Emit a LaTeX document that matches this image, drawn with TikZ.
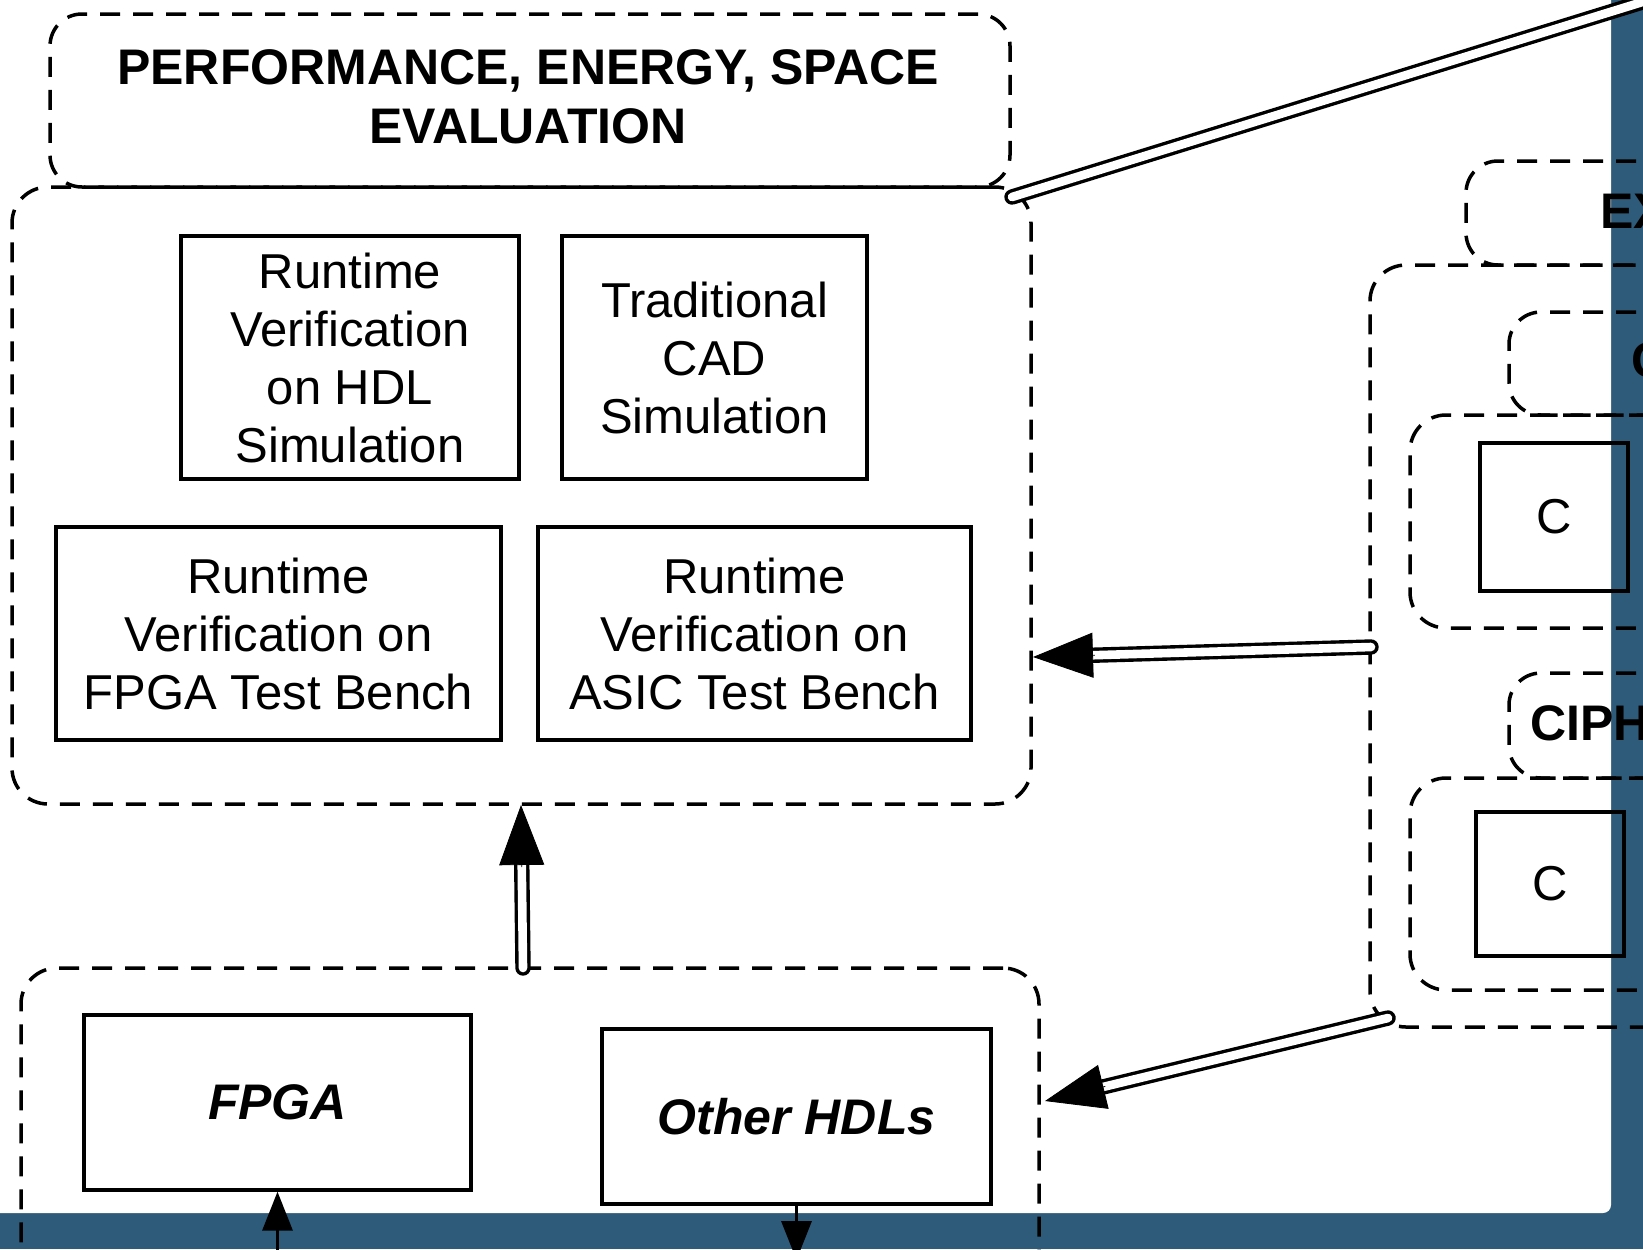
\documentclass[tikz,border=0pt]{standalone}
\usepackage{fontspec}
\setmainfont{Liberation Sans}
\usetikzlibrary{arrows.meta,calc}
\definecolor{bandblue}{RGB}{46,91,121}

\begin{document}
\begin{tikzpicture}[x=0.5pt,y=-0.5pt,
  box/.style={draw, line width=1.65pt, inner sep=0pt, align=center,
    font=\fontsize{24.5}{29}\selectfont},
  dashbox/.style={draw, line width=1.75pt, dash pattern=on 10pt off 6.5pt,
    rounded corners=18pt, inner sep=0pt},
  titlebox/.style={dashbox, rounded corners=16pt, align=center,
    font=\fontsize{25}{29.3}\selectfont\bfseries},
  titletext/.style={font=\fontsize{25}{29.3}\selectfont\bfseries, inner sep=0pt},
  hwtext/.style={font=\fontsize{25}{29.3}\selectfont\bfseries\itshape},
  link/.style={draw, line width=1.7pt, double=white, double distance=4.3pt, line cap=round},
  bighead/.style={line width=0.4pt, -{Triangle[length=30pt,width=22.5pt]}},
  smallarrow/.style={line width=1.65pt, -{Triangle[length=19.5pt,width=15pt]}},
]
\useasboundingbox (0,0) rectangle (1643,1249);
\clip (0,0) rectangle (1643,1249);

% frame: dark band on the right and bottom, white card with rounded corner
\fill[bandblue] (0,0) rectangle (1643,1249);
\fill[white, rounded corners=4pt] (-40,-40) rectangle (1611,1213);

% evaluation group
\node[titlebox, minimum width=480pt, minimum height=86.5pt] (evaltitle) at (530,100.5) {};
\node[titletext, align=center] (evaltitletext) at (528,97)
  {PERFORMANCE, ENERGY, SPACE\\EVALUATION};
\node[dashbox, minimum width=509.5pt, minimum height=308.5pt] (evalbox) at (521.5,495.5) {};

\node[box, minimum width=169pt, minimum height=121.5pt] (hdl) at (350,357.5)
  {Runtime\\Verification\\on HDL\\Simulation};
\node[box, minimum width=152.5pt, minimum height=121.5pt] (cad) at (714.5,357.5)
  {Traditional\\CAD\\Simulation};
\node[box, minimum width=222.5pt, minimum height=106.5pt] (fpgatb) at (278.5,633.5)
  {Runtime\\Verification on\\FPGA Test Bench};
\node[box, minimum width=216.5pt, minimum height=106.5pt] (asictb) at (754.5,633.5)
  {Runtime\\Verification on\\ASIC Test Bench};

% hardware group
\node[dashbox, minimum width=509pt, minimum height=181pt] (hwbox) at (530,1149) {};
\node[box, minimum width=193.5pt, minimum height=87.5pt, hwtext] (fpga) at (277.5,1102.5) {FPGA};
\node[box, minimum width=194.5pt, minimum height=87.5pt, hwtext] (hdls) at (796.5,1116.5) {Other HDLs};

% right-hand group
\node[titlebox, minimum width=167pt, minimum height=52pt] (extitle) at (1633,213) {};
\node[titletext, anchor=base west] (extext) at (1600,228) {EX};
\node[dashbox, minimum width=265pt, minimum height=381pt] (rightbox) at (1635,646) {};

\node[titlebox, minimum width=145.5pt, minimum height=51.5pt] (ctitle) at (1654.5,363.5) {};
\node[titletext, anchor=base west] (ctext) at (1631,377) {C};
\node[dashbox, minimum width=220pt, minimum height=106.5pt] (inner1) at (1630,521.5) {};
\node[box, minimum width=74pt, minimum height=74pt] (cbox1) at (1554,517) {C};

\node[titlebox, minimum width=145.5pt, minimum height=52.5pt] (ciphtitle) at (1654.5,725.5) {};
\node[titletext, anchor=base west] (ciphtext) at (1530,740) {CIPH};
\node[dashbox, minimum width=220pt, minimum height=106pt] (inner2) at (1630,884) {};
\node[box, minimum width=74pt, minimum height=72pt] (cbox2) at (1550,884) {C};

% connector end points
\coordinate (l1s) at (1012,197);
\coordinate (l1e) at (1720,-22);
\coordinate (a2s) at (1371,647);
\coordinate (a2e) at (1033,657);
\coordinate (a3s) at (523,968);
\coordinate (a3e) at (521,805);
\coordinate (a4s) at (1388,1018);
\coordinate (a4e) at (1045,1101);
\coordinate (fpgain) at (277.5,1268);
\coordinate (hdlsout) at (796.5,1260);

% double-line links
\draw[link] (l1s) -- (l1e);

\draw[link, shorten >=26pt] (a2s) -- (a2e);
\draw[bighead] ($(a2e)!31pt!(a2s)$) -- (a2e);

\draw[link, shorten >=26pt] (a3s) -- (a3e);
\draw[bighead] ($(a3e)!31pt!(a3s)$) -- (a3e);

\draw[link, shorten >=26pt] (a4s) -- (a4e);
\draw[bighead] ($(a4e)!31pt!(a4s)$) -- (a4e);

% single-line arrows
\draw[smallarrow] (fpgain) -- (fpga.south);
\draw[smallarrow] (hdls.south) -- (hdlsout);
\end{tikzpicture}
\end{document}
